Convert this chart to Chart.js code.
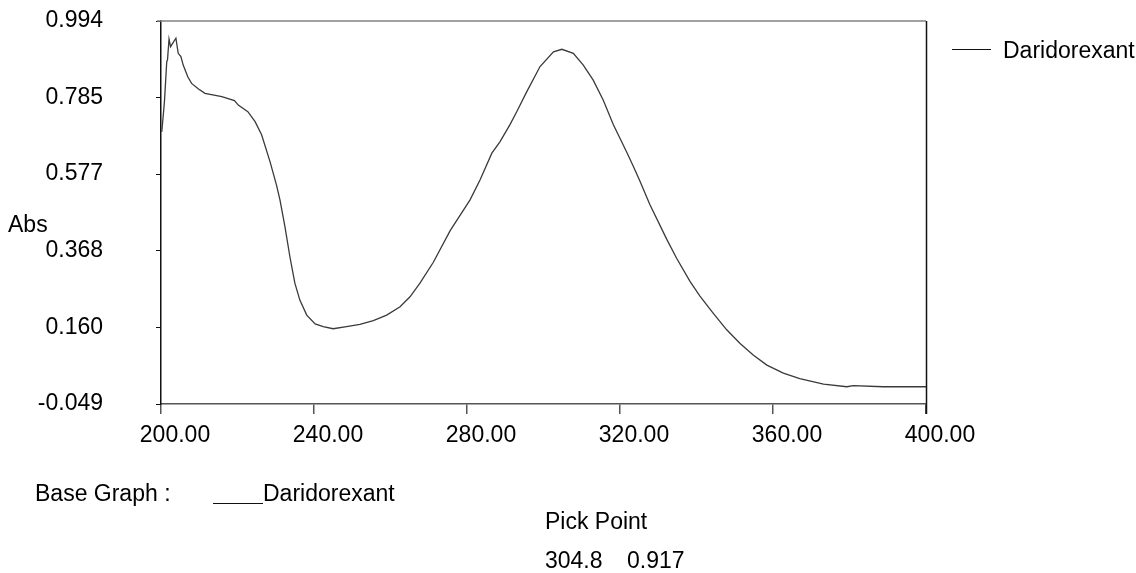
<!DOCTYPE html>
<html>
<head>
<meta charset="utf-8">
<script src="https://cdn.jsdelivr.net/npm/chart.js@4.4.1/dist/chart.umd.min.js"></script>
<style>
html, body { margin: 0; padding: 0; background: #fff; }
#wrap { position: relative; width: 1136px; height: 573px; }
</style>
</head>
<body>
<div id="wrap"><canvas id="uv_canvas" width="1136" height="573"></canvas></div>
<script>
// spectrum, wavelength in nm
var wavelength = [200.2, 200.9, 201.5, 201.7, 202.1, 202.5, 203.2, 203.9, 204.5, 205.2, 205.8, 207.0, 208.0, 209.8, 211.5,
    215.9, 219.2, 220.2, 222.7, 224.6, 226.3, 228.5, 230.2, 231.1, 232.4, 233.7, 235.0, 236.3, 238.1, 240.3, 242.4,
    245.0, 248.5, 252.0, 255.5, 259.0, 262.5, 265.1, 267.7, 271.2, 275.6, 280.8, 283.4, 286.5, 288.6, 291.2, 293.0,
    295.6, 299.1, 302.6, 304.8, 307.8, 310.4, 313.0, 315.6, 318.3, 321.8, 323.5, 325.2, 327.8, 332.2, 334.8, 338.3,
    340.9, 344.4, 347.9, 351.4, 354.9, 358.4, 362.7, 367.0, 373.2, 379.3, 381.0, 388.8, 400.0];
var absorbance = [0.692, 0.774, 0.883, 0.888, 0.945, 0.924, 0.936, 0.947, 0.906, 0.897, 0.874, 0.842, 0.824, 0.809, 0.797,
    0.788, 0.777, 0.765, 0.747, 0.720, 0.684, 0.611, 0.547, 0.507, 0.434, 0.352, 0.280, 0.234, 0.193, 0.169, 0.162,
    0.156, 0.162, 0.168, 0.178, 0.193, 0.216, 0.243, 0.280, 0.337, 0.423, 0.507, 0.561, 0.634, 0.665, 0.711, 0.747,
    0.801, 0.870, 0.910, 0.917, 0.906, 0.874, 0.833, 0.779, 0.711, 0.636, 0.598, 0.558, 0.494, 0.400, 0.348, 0.285,
    0.245, 0.198, 0.153, 0.116, 0.084, 0.057, 0.035, 0.020, 0.005, -0.002, 0.001, -0.002, -0.002];

var xTicks = [200, 240, 280, 320, 360, 400];
var yTicks = [-0.049, 0.160, 0.368, 0.577, 0.785, 0.994];
var sampleName = "Daridorexant";
var pickPoint = [304.8, 0.917];

var FONT = '"Liberation Sans", Arial, sans-serif';

var points = [];
for (var i = 0; i < wavelength.length; i++) {
    points.push({ x: wavelength[i], y: absorbance[i] });
}

// frame, legend and the text printed under the graph
var extras = {
    id: "extras",
    afterDraw: function (chart) {
        var c = chart.ctx;
        var a = chart.chartArea;
        c.save();
        c.lineWidth = 1.5;
        c.strokeStyle = "#808080";
        c.beginPath();
        c.moveTo(a.left - 4, a.top);
        c.lineTo(a.right, a.top);
        c.stroke();
        c.strokeStyle = "#111";
        c.beginPath();
        c.moveTo(a.right + 0.5, a.top);
        c.lineTo(a.right + 0.5, a.bottom + 10);
        c.stroke();

        c.fillStyle = "#000";
        c.font = "23px " + FONT;
        c.textBaseline = "middle";
        c.textAlign = "left";
        c.fillText("Abs", 8, 226);

        c.lineWidth = 1;
        c.strokeStyle = "#111";
        c.beginPath();
        c.moveTo(952, 49.5);
        c.lineTo(991, 49.5);
        c.stroke();
        c.fillText(sampleName, 1003, 52);

        c.fillText("Base Graph :", 35, 495);
        c.beginPath();
        c.moveTo(213, 503.5);
        c.lineTo(263, 503.5);
        c.stroke();
        c.fillText(sampleName, 263, 495);

        c.fillText("Pick Point", 545, 523);
        c.fillText(pickPoint[0].toFixed(1), 545, 562);
        c.fillText(pickPoint[1].toFixed(3), 627, 562);
        c.restore();
    }
};

var ctx = document.getElementById("uv_canvas").getContext("2d");

var config = {
    type: "line",
    data: {
        datasets: [{
            label: sampleName,
            data: points,
            borderColor: "#3a3a3a",
            borderWidth: 1.3,
            pointRadius: 0,
            tension: 0,
            fill: false
        }]
    },
    options: {
        responsive: false,
        animation: false,
        devicePixelRatio: 1,
        layout: { padding: { left: 0, top: 21, right: 210, bottom: 0 } },
        plugins: {
            legend: { display: false },
            tooltip: { enabled: false }
        },
        scales: {
            x: {
                type: "linear",
                min: 200,
                max: 400,
                afterBuildTicks: function (scale) {
                    scale.ticks = xTicks.map(function (v) { return { value: v }; });
                },
                afterFit: function (scale) {
                    scale.height = 169;
                    scale.paddingLeft = 0;
                    scale.paddingRight = 0;
                },
                grid: { display: true, drawOnChartArea: false, tickLength: 10, color: "#555", lineWidth: 1.5 },
                border: { display: true, color: "#555", width: 1.5 },
                ticks: {
                    maxRotation: 0,
                    padding: 8,
                    labelOffset: 14,
                    color: "#000",
                    font: { family: FONT, size: 23 },
                    callback: function (v) { return Number(v).toFixed(2); }
                }
            },
            y: {
                type: "linear",
                min: -0.049,
                max: 0.994,
                afterBuildTicks: function (scale) {
                    scale.ticks = yTicks.map(function (v) { return { value: v }; });
                },
                afterFit: function (scale) {
                    scale.width = 161;
                    scale.paddingTop = 0;
                    scale.paddingBottom = 0;
                },
                grid: { display: true, drawOnChartArea: false, tickLength: 5, color: "#111", lineWidth: 1 },
                border: { display: true, color: "#111", width: 1.5 },
                ticks: {
                    padding: 53,
                    color: "#000",
                    font: { family: FONT, size: 23 },
                    callback: function (v) { return Number(v).toFixed(3); }
                }
            }
        }
    },
    plugins: [extras]
};

var uvChart = new Chart(ctx, config);
</script>
</body>
</html>
